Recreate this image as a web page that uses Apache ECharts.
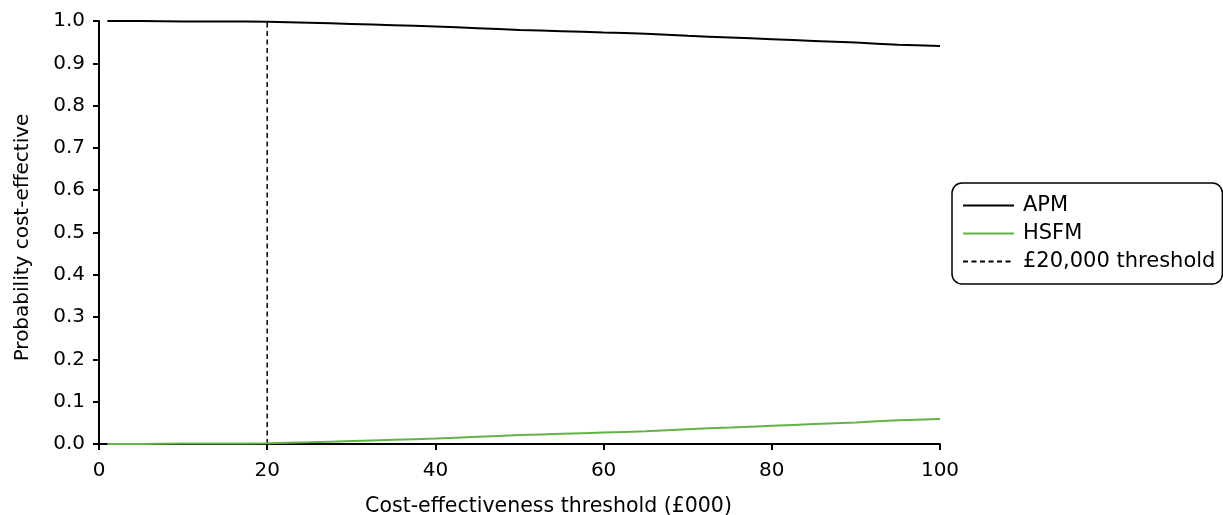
<!DOCTYPE html>
<html>
<head>
<meta charset="utf-8">
<script src="https://cdn.jsdelivr.net/npm/echarts@6/dist/echarts.min.js"></script>
<style>
  html, body { margin: 0; padding: 0; background: #fff; }
  #chart { width: 1223px; height: 515px; }
</style>
</head>
<body>
<div id="chart"></div>
<script>
// Willingness-to-pay thresholds (£000)
const thresholds = [1, 5, 10, 15, 20, 25, 30, 35, 40, 45, 50, 55, 60, 65, 70, 75, 80, 85, 90, 95, 100];
// Probability each strategy is cost-effective at each threshold
const apm = [1.000, 1.000, 0.999, 0.999, 0.998, 0.996, 0.993, 0.990, 0.987, 0.983, 0.979,
             0.976, 0.973, 0.970, 0.965, 0.961, 0.957, 0.953, 0.949, 0.944, 0.941];
const hsfm = [0.000, 0.000, 0.001, 0.001, 0.002, 0.004, 0.007, 0.010, 0.013, 0.017, 0.021,
              0.024, 0.027, 0.030, 0.035, 0.039, 0.043, 0.047, 0.051, 0.056, 0.059];
// Reference threshold (£000)
const referenceThreshold = 20;
const seriesNames = ['APM', 'HSFM', '£20,000 threshold'];

const font = '"DejaVu Sans", "Noto Sans", sans-serif';
const pair = (xs, ys) => xs.map((x, i) => [x, ys[i]]);

const chart = echarts.init(document.getElementById('chart'), null, { renderer: 'canvas' });
chart.setOption({
  animation: false,
  backgroundColor: '#ffffff',
  textStyle: { fontFamily: font, color: '#000' },
  grid: { left: 99, right: 283, top: 21, bottom: 71, containLabel: false, outerBoundsMode: 'none' },
  legend: {
    data: seriesNames,
    orient: 'vertical',
    left: 952,
    top: 183,
    padding: [12, 7, 12, 10],
    itemGap: 7,
    itemWidth: 51,
    itemHeight: 20,
    borderColor: '#000',
    borderWidth: 1.5,
    borderRadius: 10,
    itemStyle: { opacity: 0 },
    textStyle: { fontFamily: font, fontSize: 21, color: '#000', padding: [0, 0, 0, 4] }
  },
  xAxis: {
    type: 'value',
    min: 0,
    max: 100,
    interval: 20,
    name: 'Cost-effectiveness threshold (£000)',
    nameLocation: 'middle',
    nameGap: 52,
    // title sits a little right of the axis centre
    nameTextStyle: { fontFamily: font, fontSize: 20.5, color: '#000', padding: [0, 0, 0, 58] },
    axisLine: { lineStyle: { color: '#000', width: 2 } },
    axisTick: { show: true, length: 6, lineStyle: { color: '#000', width: 2 } },
    axisLabel: { fontFamily: font, fontSize: 20, color: '#000', margin: 17 },
    splitLine: { show: false }
  },
  yAxis: {
    type: 'value',
    min: 0,
    max: 1,
    interval: 0.1,
    name: 'Probability cost-effective',
    nameLocation: 'middle',
    nameGap: 66,
    nameTextStyle: { fontFamily: font, fontSize: 20, color: '#000', padding: [0, 10, 0, 0] },
    axisLine: { show: true, lineStyle: { color: '#000', width: 2 } },
    axisTick: { show: true, length: 6, lineStyle: { color: '#000', width: 2 } },
    axisLabel: {
      fontFamily: font, fontSize: 20, color: '#000', margin: 14,
      formatter: v => v.toFixed(1)
    },
    splitLine: { show: false }
  },
  series: [
    {
      name: seriesNames[0],
      type: 'line',
      data: pair(thresholds, apm),
      showSymbol: false,
      symbol: 'none',
      smooth: 0.3,
      lineStyle: { color: '#000', width: 2 },
      itemStyle: { color: '#000' },
      z: 3
    },
    {
      name: seriesNames[1],
      type: 'line',
      data: pair(thresholds, hsfm),
      showSymbol: false,
      symbol: 'none',
      smooth: 0.3,
      lineStyle: { color: '#62b345', width: 2 },
      itemStyle: { color: '#62b345' },
      z: 4
    },
    {
      name: seriesNames[2],
      type: 'line',
      data: [[referenceThreshold, 0], [referenceThreshold, 1]],
      showSymbol: false,
      symbol: 'none',
      lineStyle: { color: '#000', width: 1.5, type: [5, 3.5] },
      itemStyle: { color: '#000' },
      z: 2
    }
  ]
});
</script>
</body>
</html>
